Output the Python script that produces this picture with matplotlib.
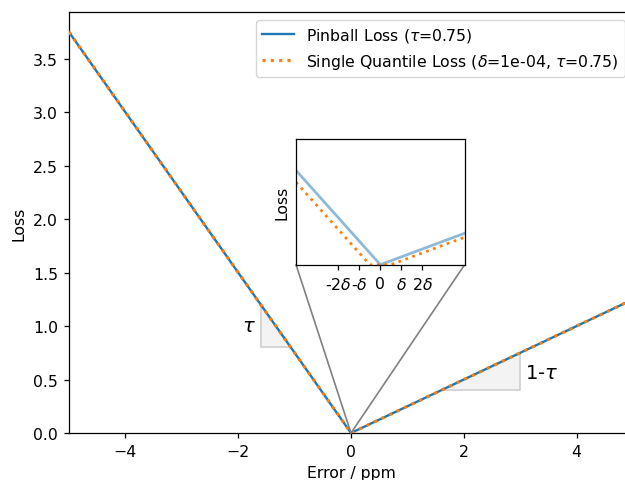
import matplotlib
matplotlib.use("Agg")
import matplotlib.pyplot as plt
from matplotlib.patches import Polygon

tau = 0.75
delta = 1e-4

# main curves (error in ppm)
pin_x = [-5.0, 0.0, 5.0]
pin_y = [3.75, 0.0, 1.25]
sq_x = [-5.0, -0.5 * delta, 0.5 * delta, 5.0]
sq_y = [3.75 - 0.375 * delta, 0.0, 0.0, 1.25 - 0.125 * delta]

# inset curves (in units of delta)
ins_pin_x = [-4.0, 0.0, 4.0]
ins_pin_y = [3.0, 0.0, 1.0]
ins_sq_x = [-4.0, -0.5, 0.5, 4.0]
ins_sq_y = [2.625, 0.0, 0.0, 0.875]
ins_ticks = [-2, -1, 0, 1, 2]
ins_ticklabels = ['-2$\\delta$', '-$\\delta$', '0', '$\\delta$', '2$\\delta$']

# slope triangles
tri_left = [(-1.6, 1.2), (-1.6, 0.8), (-1.0667, 0.8)]
tri_right = [(1.6, 0.4), (3.0, 0.4), (3.0, 0.75)]

s = 1.13
plt.rcParams.update({
    'font.size': 10 * s,
    'axes.linewidth': 0.8 * s,
    'xtick.major.size': 3.5 * s,
    'ytick.major.size': 3.5 * s,
    'xtick.major.width': 0.8 * s,
    'ytick.major.width': 0.8 * s,
    'xtick.major.pad': 3.5 * s,
    'ytick.major.pad': 3.5 * s,
    'axes.labelpad': 4 * s,
})

fig = plt.figure(figsize=(6.25, 4.81), dpi=100)
ax = fig.add_axes([69 / 625, 1 - 434 / 481, 564 / 625, 421 / 481])

ax.plot(pin_x, pin_y, color='#1f77b4', lw=1.5 * s, label=r'Pinball Loss ($\tau$=0.75)', zorder=3)
ax.plot(sq_x, sq_y, color='#ff7f0e', lw=2 * s, ls=':',
        label=r'Single Quantile Loss ($\delta$=1e-04, $\tau$=0.75)', zorder=4)

for tri in (tri_left, tri_right):
    ax.add_patch(Polygon(tri, closed=True, facecolor='#f3f3f3', edgecolor='#cfcfcf', lw=1.2, zorder=1))
ax.text(-1.68, 1.01, r'$\tau$', fontsize=14, ha='right', va='center')
ax.text(3.08, 0.57, r'1-$\tau$', fontsize=14, ha='left', va='center')

ax.set_xlim(-5, 5)
ax.set_ylim(0, 3.9375)
ax.set_xlabel('Error / ppm')
ax.set_ylabel('Loss')
ax.legend(loc='upper right', borderaxespad=0.5)

axins = ax.inset_axes([0.4025, 0.3998, 0.299, 0.2986])
axins.plot([v * delta for v in ins_pin_x], [v * delta for v in ins_pin_y],
           color='#1f77b4', lw=2, alpha=0.5)
axins.plot([v * delta for v in ins_sq_x], [v * delta for v in ins_sq_y],
           color='#ff7f0e', lw=2, ls=':')
axins.set_xlim(-4 * delta, 4 * delta)
axins.set_ylim(0, 4 * delta)
axins.set_xticks([t * delta for t in ins_ticks])
axins.set_xticklabels(ins_ticklabels)
axins.set_yticks([])
axins.set_ylabel('Loss')

ind = ax.indicate_inset_zoom(axins, edgecolor='gray', alpha=1)
conns = ind.connectors
for c, vis in zip(conns, [True, False, True, False]):
    c.set_visible(vis)
    c.set_color('gray')
    c.set_alpha(1)
    c.set_linewidth(1.2)

fig.savefig('out.png', dpi=100)
